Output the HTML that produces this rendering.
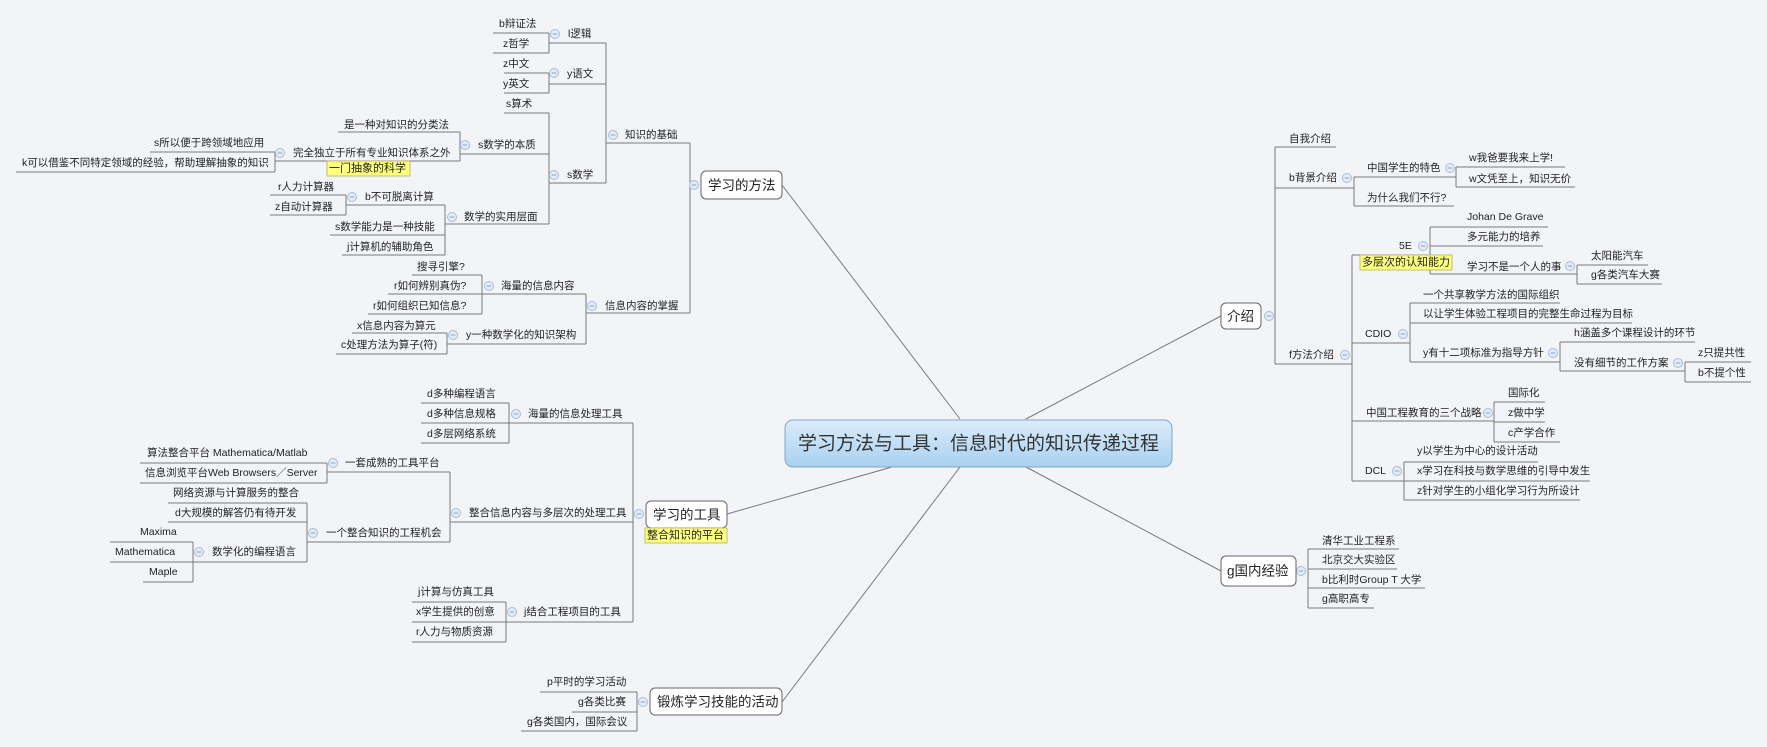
<!DOCTYPE html>
<html><head><meta charset="utf-8"><style>
html,body{margin:0;padding:0;background:#f2f4f8}
svg{display:block}
text{font-family:"Liberation Sans","Noto Sans CJK SC",sans-serif;font-size:10.5px;fill:#222;dominant-baseline:central}
.l{stroke:#7a7a7a;stroke-width:1;fill:none}
.c{fill:#e2ebf6;stroke:#a9bdd8;stroke-width:1}
.b{fill:#fff;stroke:#666;stroke-width:1}
.h{fill:#ffff80;stroke:#b5b060;stroke-width:0.8}
.m{font-size:13.5px}
</style></head><body>
<svg width="1767" height="747" viewBox="0 0 1767 747">
<defs><linearGradient id="g" x1="0" y1="0" x2="0" y2="1"><stop offset="0" stop-color="#dcedfb"/><stop offset="1" stop-color="#a8d0f0"/></linearGradient>
<g id="ci"><circle class="c" cx="0" cy="0" r="4.5"/><line x1="-2.2" y1="0" x2="2.2" y2="0" stroke="#8aa3c6" stroke-width="1"/></g></defs>

<!-- central links -->
<path class="l" d="M960 419L782 185M1026 419L1221 316M892 467L727 514M960 467L782 702M1026 467L1221 571"/>

<!-- LEFT: 学习的方法 -->
<path class="l" d="
M493 33H549M493 53H549M549 33V53M549 43H606
M504 73H549M504 93H549M549 73V93M549 84H606
M504 113H549M549 113V224M549 183H606
M606 43V183M606 143H690
M690 143V313
M338 132H460M275 161H460M460 132V161M460 154H549
M150 152H275M16 172H275M275 152V172
M346 205H445M270 195H346M270 215H346M346 195V215
M330 235H445M342 255H445M445 205V255M445 224H549
M586 313H690M586 294V344
M482 294H586M412 275H482M388 294H482M368 314H482M482 275V314
M447 344H586M352 333H447M336 354H447M447 333V354
"/>
<text x="499" y="24">b辩证法</text><text x="503" y="44">z哲学</text>
<text x="568" y="34">l逻辑</text><use href="#ci" x="555" y="34"/>
<text x="503" y="64">z中文</text><text x="503" y="84">y英文</text>
<text x="567" y="74">y语文</text><use href="#ci" x="554" y="73"/>
<text x="506" y="104">s算术</text>
<text x="567" y="175">s数学</text><use href="#ci" x="554" y="175"/>
<text x="625" y="135">知识的基础</text><use href="#ci" x="613" y="135"/>
<text x="478" y="145">s数学的本质</text><use href="#ci" x="465" y="145"/>
<text x="344" y="125">是一种对知识的分类法</text>
<text x="293" y="153">完全独立于所有专业知识体系之外</text><use href="#ci" x="280" y="153"/>
<rect class="h" x="327" y="161" width="83" height="15"/><text x="329" y="168.5" style="font-size:11px">一门抽象的科学</text>
<text x="154" y="143">s所以便于跨领域地应用</text>
<text x="22" y="163">k可以借鉴不同特定领域的经验，帮助理解抽象的知识</text>
<text x="464" y="217">数学的实用层面</text><use href="#ci" x="452" y="217"/>
<text x="365" y="197">b不可脱离计算</text><use href="#ci" x="352" y="197"/>
<text x="278" y="187">r人力计算器</text><text x="275" y="207">z自动计算器</text>
<text x="335" y="227">s数学能力是一种技能</text><text x="347" y="247">j计算机的辅助角色</text>
<text x="605" y="306">信息内容的掌握</text><use href="#ci" x="592" y="306"/>
<text x="501" y="286">海量的信息内容</text><use href="#ci" x="489" y="286"/>
<text x="417" y="267">搜寻引擎?</text><text x="394" y="286">r如何辨别真伪?</text><text x="373" y="306">r如何组织已知信息?</text>
<text x="466" y="335">y一种数学化的知识架构</text><use href="#ci" x="453" y="335"/>
<text x="357" y="326">x信息内容为算元</text><text x="341" y="345">c处理方法为算子(符)</text>
<use href="#ci" x="694" y="185"/>
<rect class="b" x="701" y="171" width="81" height="28" rx="5"/><text class="m" x="708" y="185.5">学习的方法</text>

<!-- LEFT: 学习的工具 -->
<path class="l" d="
M633 423V622
M509 423H633M421 403H509M421 423H509M421 443H509M509 403V443
M450 522H633M450 472V542
M327 472H450M140 463H327M140 483H327M327 463V483
M307 542H450M307 503V562M168 503H307M168 522H307M193 562H307
M110 542H193M110 562H193M143 582H193M193 542V582
M506 622H633M412 602H506M412 622H506M412 642H506M506 602V642
M637 692V731M540 692H637M572 712H637M521 731H637
"/>
<text x="528" y="414">海量的信息处理工具</text><use href="#ci" x="516" y="414"/>
<text x="427" y="394">d多种编程语言</text><text x="427" y="414">d多种信息规格</text><text x="427" y="434">d多层网络系统</text>
<text x="469" y="513">整合信息内容与多层次的处理工具</text><use href="#ci" x="456" y="513"/>
<text x="345" y="463">一套成熟的工具平台</text><use href="#ci" x="333" y="463"/>
<text x="147" y="453">算法整合平台 Mathematica/Matlab</text>
<text x="145" y="473">信息浏览平台Web Browsers／Server</text>
<text x="326" y="533">一个整合知识的工程机会</text><use href="#ci" x="313" y="533"/>
<text x="173" y="493">网络资源与计算服务的整合</text><text x="175" y="513">d大规模的解答仍有待开发</text>
<text x="212" y="552">数学化的编程语言</text><use href="#ci" x="199" y="552"/>
<text x="140" y="532">Maxima</text><text x="115" y="552">Mathematica</text><text x="149" y="572">Maple</text>
<text x="524" y="612">j结合工程项目的工具</text><use href="#ci" x="512" y="612"/>
<text x="418" y="592">j计算与仿真工具</text><text x="416" y="612">x学生提供的创意</text><text x="416" y="632">r人力与物质资源</text>
<use href="#ci" x="639" y="514"/>
<rect class="b" x="646" y="501" width="81" height="27" rx="5"/><text class="m" x="653" y="515">学习的工具</text>
<rect class="h" x="645" y="528" width="82" height="15"/><text x="647" y="535.5" style="font-size:11px">整合知识的平台</text>
<text x="547" y="682">p平时的学习活动</text><text x="578" y="702">g各类比赛</text><text x="527" y="722">g各类国内，国际会议</text>
<use href="#ci" x="643" y="702"/>
<rect class="b" x="650" y="688" width="132" height="27" rx="5"/><text class="m" x="657" y="702">锻炼学习技能的活动</text>

<!-- RIGHT: 介绍 -->
<path class="l" d="
M1275 147V364M1275 147H1336M1275 188H1354M1275 364H1352
M1354 177V206M1354 177H1456M1354 206H1454
M1456 167V187M1456 167H1565M1456 187H1575
M1352 255V481M1352 255H1430M1430 227V274
M1430 227H1548M1430 246H1543M1430 274H1577
M1577 265V284M1577 265H1648M1577 284H1662
M1352 343H1410M1410 303V362M1410 303H1560M1410 323H1632M1410 362H1560
M1560 342V371M1560 342H1695M1560 371H1685
M1685 362V382M1685 362H1751M1685 382H1751
M1352 421H1494M1494 402V442M1494 402H1545M1494 422H1545M1494 442H1560
M1352 481H1404M1404 462V500M1404 462H1538M1404 481H1590M1404 500H1580
"/>
<text x="1289" y="139">自我介绍</text>
<text x="1289" y="178">b背景介绍</text><use href="#ci" x="1347" y="178"/>
<text x="1367" y="168">中国学生的特色</text><use href="#ci" x="1450" y="168"/>
<text x="1469" y="158">w我爸要我来上学!</text><text x="1469" y="179">w文凭至上，知识无价</text>
<text x="1367" y="198">为什么我们不行?</text>
<text x="1289" y="355">f方法介绍</text><use href="#ci" x="1345" y="355"/>
<text x="1399" y="246">5E</text><use href="#ci" x="1423" y="246"/>
<rect class="h" x="1360" y="255" width="92" height="15"/><text x="1362" y="262.5" style="font-size:11px">多层次的认知能力</text>
<text x="1467" y="217">Johan De Grave</text><text x="1467" y="237">多元能力的培养</text>
<text x="1467" y="267">学习不是一个人的事</text><use href="#ci" x="1570" y="266"/>
<text x="1591" y="256">太阳能汽车</text><text x="1591" y="275">g各类汽车大赛</text>
<text x="1365" y="334">CDIO</text><use href="#ci" x="1403" y="334"/>
<text x="1423" y="295">一个共享教学方法的国际组织</text><text x="1423" y="314">以让学生体验工程项目的完整生命过程为目标</text>
<text x="1423" y="353">y有十二项标准为指导方针</text><use href="#ci" x="1553" y="353"/>
<text x="1574" y="333">h涵盖多个课程设计的环节</text>
<text x="1574" y="363">没有细节的工作方案</text><use href="#ci" x="1678" y="363"/>
<text x="1698" y="353">z只提共性</text><text x="1698" y="373">b不提个性</text>
<text x="1366" y="413">中国工程教育的三个战略</text><use href="#ci" x="1488" y="413"/>
<text x="1508" y="393">国际化</text><text x="1508" y="413">z做中学</text><text x="1508" y="433">c产学合作</text>
<text x="1365" y="471">DCL</text><use href="#ci" x="1397" y="471"/>
<text x="1417" y="451">y以学生为中心的设计活动</text><text x="1417" y="471">x学习在科技与数学思维的引导中发生</text><text x="1417" y="491">z针对学生的小组化学习行为所设计</text>
<use href="#ci" x="1269" y="316"/>
<rect class="b" x="1221" y="303" width="40" height="26" rx="5"/><text class="m" x="1227" y="316.5">介绍</text>

<!-- RIGHT: 国内经验 -->
<path class="l" d="M1308 549V608M1308 549H1399M1308 569H1397M1308 588H1425M1308 608H1374"/>
<text x="1322" y="541">清华工业工程系</text><text x="1322" y="560">北京交大实验区</text><text x="1322" y="580">b比利时Group T 大学</text><text x="1322" y="599">g高职高专</text>
<use href="#ci" x="1301" y="571"/>
<rect class="b" x="1221" y="556" width="75" height="30" rx="5"/><text class="m" x="1227" y="571">g国内经验</text>

<!-- center -->
<rect x="785" y="420" width="387" height="47" rx="8" fill="url(#g)" stroke="#7fa6c8"/>
<text x="978.5" y="444" text-anchor="middle" style="font-size:19px;fill:#333">学习方法与工具：信息时代的知识传递过程</text>
</svg>
</body></html>
